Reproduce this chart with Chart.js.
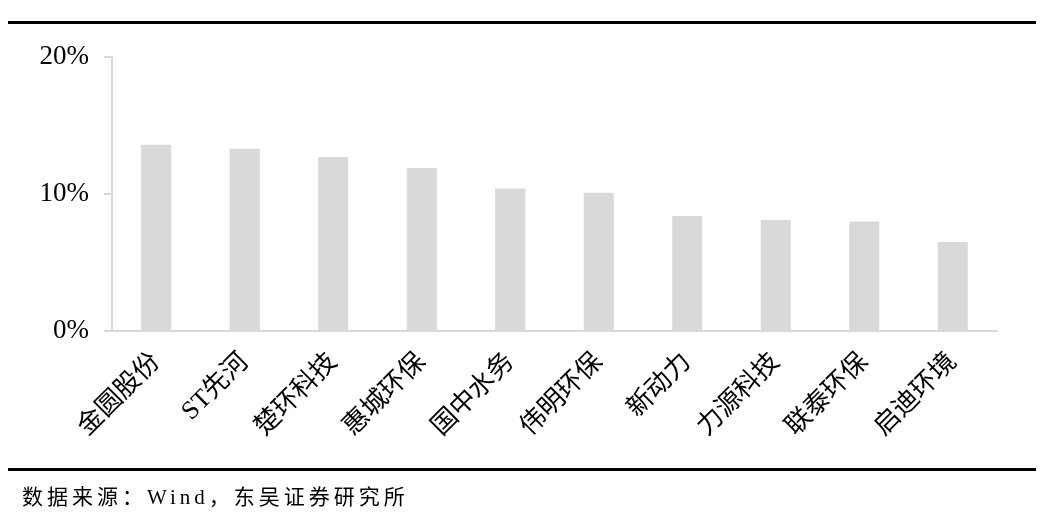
<!DOCTYPE html>
<html>
<head>
<meta charset="utf-8">
<script src="https://cdn.jsdelivr.net/npm/chart.js@4/dist/chart.umd.min.js"></script>
<style>
  body { margin: 0; background: #fff; }
  #wrap { position: relative; width: 1048px; height: 520px; }
  #grafic { position: absolute; left: 0; top: 0; }
  .linia { position: absolute; left: 8px; width: 1028px; height: 3px; background: #000; }
  #font { position: absolute; left: 22px; top: 480px; font-family: "Liberation Serif", "Noto Sans CJK SC", serif; font-size: 21px; letter-spacing: 4px; color: #000; }
</style>
</head>
<body>
<div id="wrap">
  <canvas id="grafic" width="1048" height="520"></canvas>
  <div class="linia" style="top:21px"></div>
  <div class="linia" style="top:468px"></div>
  <div id="font">数据来源：Wind，东吴证券研究所</div>
</div>
<script>
var empreses = ['金圆股份', 'ST先河', '楚环科技', '惠城环保', '国中水务', '伟明环保', '新动力', '力源科技', '联泰环保', '启迪环境'];
var valors = [13.6, 13.3, 12.7, 11.9, 10.4, 10.1, 8.4, 8.1, 8.0, 6.5];
var ticksY = [0, 10, 20];

var ctx = document.getElementById('grafic').getContext('2d');

var grafic = new Chart(ctx, {
    type: 'bar',
    data: {
        labels: empreses,
        datasets: [{
            data: valors,
            backgroundColor: '#d9d9d9',
            categoryPercentage: 1,
            barPercentage: 0.34
        }]
    },
    options: {
        responsive: false,
        animation: false,
        layout: { padding: { left: 0, top: 57, right: 51, bottom: 50 } },
        plugins: { legend: { display: false }, tooltip: { enabled: false } },
        scales: {
            x: {
                grid: { display: false },
                border: { color: '#d9d9d9', width: 2 },
                ticks: {
                    color: '#000',
                    font: { family: '"Liberation Serif", "Noto Sans CJK SC", serif', size: 26 },
                    minRotation: 45,
                    maxRotation: 45,
                    padding: 8
                },
                afterFit: function(scale) { scale.height = 139; }
            },
            y: {
                min: 0,
                max: 20,
                afterBuildTicks: function(scale) {
                    scale.ticks = ticksY.map(function(v) { return { value: v }; });
                },
                grid: { drawOnChartArea: false, drawTicks: true, tickLength: 8, color: '#d9d9d9', lineWidth: 2 },
                border: { color: '#d9d9d9', width: 2 },
                ticks: {
                    color: '#000',
                    font: { family: '"Liberation Serif", serif', size: 27 },
                    padding: 15,
                    callback: function(v) { return v + '%'; }
                },
                afterFit: function(scale) { scale.width = 112; }
            }
        }
    }
});
</script>
</body>
</html>
